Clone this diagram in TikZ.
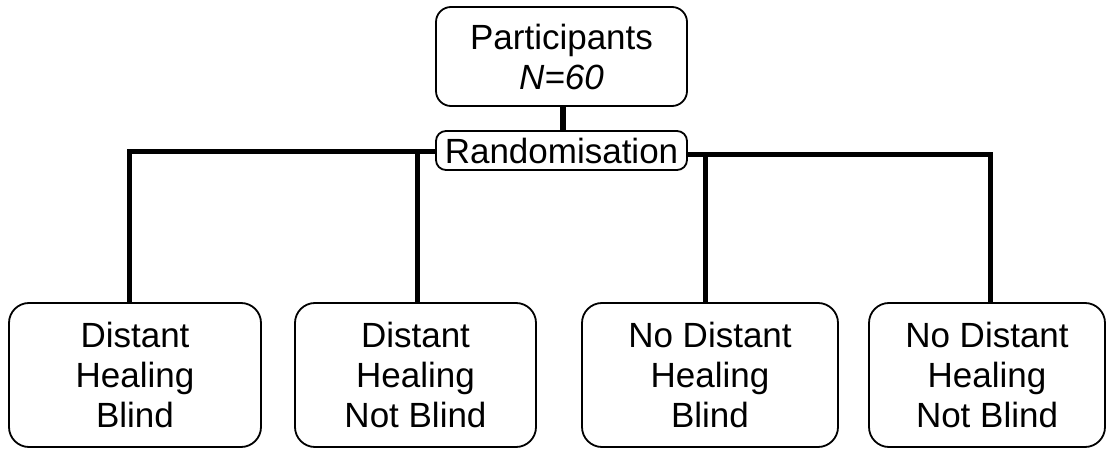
\documentclass[tikz,border=0pt]{standalone}
\usepackage{fontspec}
\setmainfont{Liberation Sans}
\begin{document}
\begin{tikzpicture}[x=1pt,y=-1pt,
  box/.style={draw=black,line width=1.8pt,fill=white,inner sep=0pt,align=center,
    font=\fontsize{35}{40}\selectfont},
  topbox/.style={box,rounded corners=15pt,minimum width=251pt},
  armbox/.style={box,rounded corners=20pt,minimum height=144pt},
  conn/.style={line width=5.5pt,line join=miter}]
\useasboundingbox (0,0) rectangle (1106,449);
% connectors first (under boxes)
\coordinate (jl) at (0,151.5);
\coordinate (jr) at (0,154.5);
\node[topbox,minimum height=99pt] (part) at (561.5,56.5) {Participants\\\textit{N=60}};
\node[topbox,rounded corners=10pt,minimum height=39pt] (rand) at (561.5,150.5) {Randomisation};
\node[armbox,minimum width=252pt] (b1) at (135,375) {Distant\\Healing\\Blind};
\node[armbox,minimum width=241pt] (b2) at (415.5,375) {Distant\\Healing\\Not Blind};
\node[armbox,minimum width=256pt] (b3) at (710,375) {No Distant\\Healing\\Blind};
\node[armbox,minimum width=236pt] (b4) at (987,375) {No Distant\\Healing\\Not Blind};
\begin{scope}[on background layer/.style={}]
\draw[conn] ([xshift=1.5pt]part.south) -- ([xshift=1.5pt]rand.north);
\draw[conn] (rand.west |- jl) -| ([xshift=-5.5pt]b1.north);
\draw[conn] ([xshift=2pt]b2.north |- jl) -- ([xshift=2pt]b2.north);
\draw[conn] (rand.east |- jr) -| ([xshift=3.5pt]b4.north);
\draw[conn] ([xshift=-4.5pt]b3.north |- jr) -- ([xshift=-4.5pt]b3.north);
\end{scope}
\end{tikzpicture}
\end{document}
